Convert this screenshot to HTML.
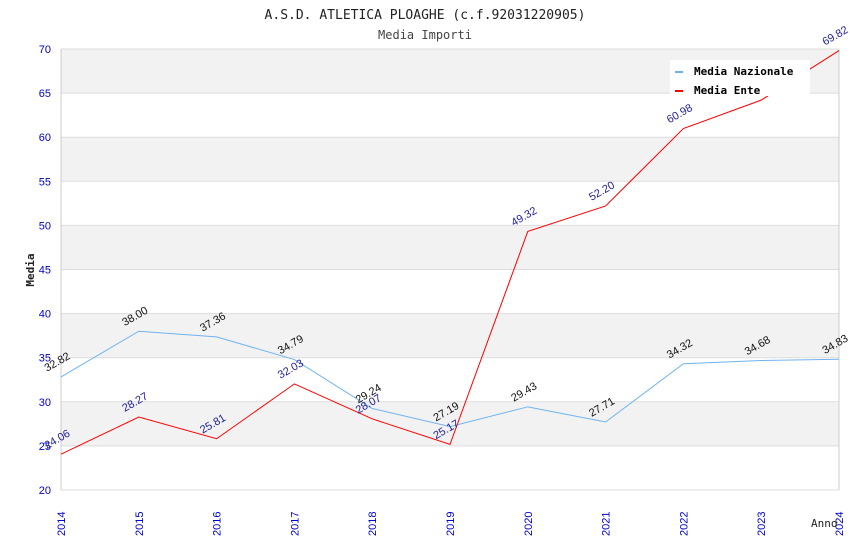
<!DOCTYPE html>
<html><head><meta charset="utf-8"><style>body{margin:0;background:#fff}svg{display:block}</style></head>
<body>
<svg id="c" width="850" height="550" xmlns="http://www.w3.org/2000/svg" font-family="'DejaVu Sans Mono','Liberation Mono',monospace">
<text x="425" y="19" text-anchor="middle" font-size="13" fill="#222">A.S.D. ATLETICA PLOAGHE (c.f.92031220905)</text>
<text x="425" y="39" text-anchor="middle" font-size="12" fill="#444">Media Importi</text>
<g id="bands"></g><g id="grid"></g><g id="axes"></g><g id="series"></g><g id="labels"></g>
<text transform="translate(34,270) rotate(-90)" text-anchor="middle" font-size="11" font-weight="bold" fill="#222">Media</text>
<text x="811" y="527" font-size="11" fill="#222">Anno</text>
<g>
<rect x="670" y="60" width="140" height="36" fill="#fff"/>
<rect x="675" y="71" width="8" height="2" fill="#6fb3f0"/>
<text x="694" y="75" font-size="11" font-weight="bold" fill="#000">Media Nazionale</text>
<rect x="675" y="90" width="8" height="2" fill="#f00"/>
<text x="694" y="94" font-size="11" font-weight="bold" fill="#000">Media Ente</text>
</g>
</svg>
<script>
const years=[2014,2015,2016,2017,2018,2019,2020,2021,2022,2023,2024];
const nazionale=[32.82,38.00,37.36,34.79,29.24,27.19,29.43,27.71,34.32,34.68,34.83];
const ente=[24.06,28.27,25.81,32.03,28.07,25.17,49.32,52.20,60.98,64.2,69.82];
const yTicks=[20,25,30,35,40,45,50,55,60,65,70];
const NS='http://www.w3.org/2000/svg';
const X0=61,X1=839,Y0=490,Y1=49;
const xs=i=>X0+(X1-X0)*i/(years.length-1);
const ys=v=>Y0-(v-20)/(70-20)*(Y0-Y1);
function mk(tag,attrs,parent){const e=document.createElementNS(NS,tag);for(const k in attrs)e.setAttribute(k,attrs[k]);document.getElementById(parent).appendChild(e);return e;}
for(let i=0;i<yTicks.length-1;i++){
 if(i%2===1){const r=mk('rect',{x:X0,y:ys(yTicks[i+1]),width:X1-X0,height:ys(yTicks[i])-ys(yTicks[i+1]),fill:'#f2f2f2'},'bands');
 
 }
}
yTicks.forEach(t=>{
 const l=mk('line',{x1:X0,x2:X1,y1:ys(t),y2:ys(t),stroke:'#ddd'},'grid');
 
 
 const tx=mk('text',{x:X0-10,y:ys(t)+4,'text-anchor':'end','font-size':11,fill:'#00c','font-family':"'Liberation Sans',sans-serif"},'axes');
 tx.textContent=t;
 
 
});
mk('line',{x1:X0,x2:X0,y1:Y1,y2:Y0,stroke:'#ccc'},'axes');
mk('line',{x1:X1,x2:X1,y1:Y1,y2:Y0,stroke:'#ccc'},'axes');
years.forEach((y,i)=>{
 const t=mk('text',{transform:`translate(${xs(i)+4},${Y0+46}) rotate(-90)`,'font-size':11,fill:'#00c','font-family':"'Liberation Sans',sans-serif"},'axes');
 t.textContent=y;
 
 
});
function series(vals,color,lblColor,name){
 const p=mk('polyline',{points:vals.map((v,i)=>xs(i)+','+ys(v)).join(' '),fill:'none',stroke:color,'stroke-width':1},'series');
 
 
 vals.forEach((v,i)=>{
  if(name==='ente'&&i===9)return;
  const t=mk('text',{transform:`translate(${xs(i)-14},${ys(v)-5}) rotate(-30)`,'font-size':11,fill:lblColor,'font-family':"'Liberation Sans',sans-serif"},'labels');
  t.textContent=v.toFixed(2);
  
  
 });
}
series(nazionale,'#6fb3f0','#111','nazionale');
series(ente,'#f00','#22229a','ente');
</script>
</body></html>
